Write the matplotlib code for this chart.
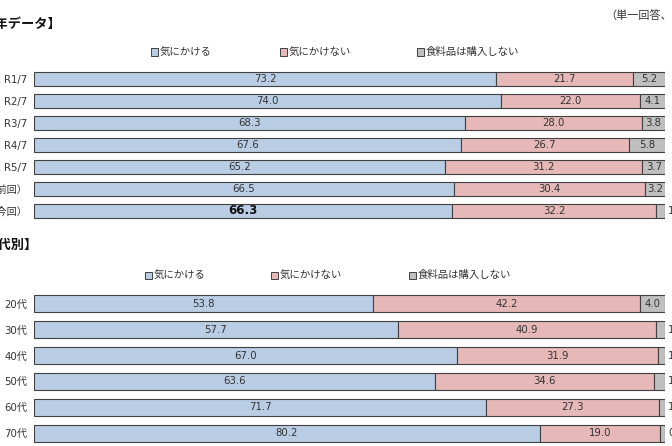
import matplotlib.pyplot as plt
from matplotlib.patches import Rectangle

plt.rcParams['font.family'] = ['DejaVu Sans', 'Noto Sans CJK JP']

# --- data ---
legend_labels = ["気にかける", "気にかけない", "食料品は購入しない"]

year_cats = ["R1/7", "R2/7", "R3/7", "R4/7", "R5/7", "R6/7（前回）", "R7/7（今回）"]
year_care = [73.2, 74.0, 68.3, 67.6, 65.2, 66.5, 66.3]
year_nocare = [21.7, 22.0, 28.0, 26.7, 31.2, 30.4, 32.2]
year_nobuy = [5.2, 4.1, 3.8, 5.8, 3.7, 3.2, 1.5]

age_cats = ["20代", "30代", "40代", "50代", "60代", "70代"]
age_care = [53.8, 57.7, 67.0, 63.6, 71.7, 80.2]
age_nocare = [42.2, 40.9, 31.9, 34.6, 27.3, 19.0]
age_nobuy = [4.0, 1.4, 1.1, 1.8, 1.0, 0.8]

colors = ["#B9CDE5", "#E6B9B8", "#BFBFBF"]
edge = "#404040"
txt = "#333333"

W, H = 672, 446
fig = plt.figure(figsize=(W / 100, H / 100), dpi=100)


def px_axes(x0, y0, x1, y1):
    return fig.add_axes([x0 / W, 1 - y1 / H, (x1 - x0) / W, (y1 - y0) / H])


def draw_bars(ax, cats, care, nocare, nobuy, height, bold_last=False):
    n = len(cats)
    ys = list(range(n))
    ax.barh(ys, care, height=height, color=colors[0], edgecolor=edge, linewidth=0.8)
    ax.barh(ys, nocare, left=care, height=height, color=colors[1], edgecolor=edge, linewidth=0.8)
    left3 = [a + b for a, b in zip(care, nocare)]
    ax.barh(ys, nobuy, left=left3, height=height, color=colors[2], edgecolor=edge, linewidth=0.8)
    for i in range(n):
        if bold_last and i == n - 1:
            ax.text(care[i] / 2, i, f"{care[i]:.1f}", ha="center", va="center",
                    fontsize=8.5, fontweight="bold", color="#111111")
        else:
            ax.text(care[i] / 2, i, f"{care[i]:.1f}", ha="center", va="center",
                    fontsize=7.3, color=txt)
        ax.text(care[i] + nocare[i] / 2, i, f"{nocare[i]:.1f}", ha="center", va="center",
                fontsize=7.3, color=txt)
        if nobuy[i] >= 3:
            ax.text(left3[i] + nobuy[i] / 2, i, f"{nobuy[i]:.1f}", ha="center", va="center",
                    fontsize=7.3, color=txt)
        else:
            ax.text(100.5, i, f"{nobuy[i]:.1f}", ha="left", va="center",
                    fontsize=7.3, color=txt, clip_on=False)
    ax.set_xlim(0, 100)
    ax.set_ylim(n - 0.5, -0.5)
    ax.set_yticks(ys)
    ax.set_yticklabels(cats, fontsize=7.3, color=txt)
    ax.tick_params(axis="y", length=0, pad=5)
    ax.set_xticks([])
    for s in ax.spines.values():
        s.set_visible(False)


def draw_legend(y, xs):
    for x, lab, c in zip(xs, legend_labels, colors):
        fig.add_artist(Rectangle(((x - 3.5) / W, 1 - (y + 3.5) / H), 7 / W, 7 / H,
                                 facecolor=c, edgecolor=edge, linewidth=0.7,
                                 transform=fig.transFigure))
        fig.text((x + 6) / W, 1 - y / H, lab, ha="left", va="center", fontsize=7.5, color=txt)


ax1 = px_axes(34, 68, 665, 222)
draw_bars(ax1, year_cats, year_care, year_nocare, year_nobuy, 0.68, bold_last=True)

ax2 = px_axes(34, 291, 665, 446)
draw_bars(ax2, age_cats, age_care, age_nocare, age_nobuy, 0.66)

fig.text(61 / W, 1 - 24 / H, "【経年データ】", ha="right", va="center",
         fontsize=9.5, fontweight="bold", color="#111111")
fig.text(38 / W, 1 - 245 / H, "【年代別】", ha="right", va="center",
         fontsize=9.5, fontweight="bold", color="#111111")
fig.text(605 / W, 1 - 15 / H, "（単一回答、％）", ha="left", va="center",
         fontsize=8, color=txt)

draw_legend(52, [154, 283, 420])
draw_legend(275, [148, 274, 412])

fig.savefig("out.png", dpi=100)
